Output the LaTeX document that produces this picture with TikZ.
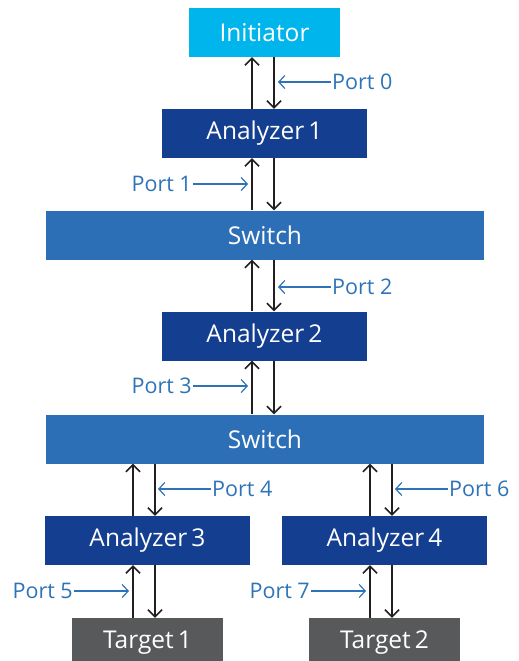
\documentclass[tikz,border=0pt]{standalone}
\usepackage{fontspec}
\setmainfont{Open Sans}
\usetikzlibrary{arrows.meta}
\definecolor{cinit}{HTML}{00B5EC}
\definecolor{canal}{HTML}{143E8F}
\definecolor{cswitch}{HTML}{2C6FB7}
\definecolor{ctarget}{HTML}{58595B}
\definecolor{cport}{HTML}{2E73B8}
\definecolor{carrow}{HTML}{231F20}
\tikzset{
  box/.style={draw=none, text=white, inner sep=0pt, minimum height=49pt, font=\fontsize{24.5}{28}\selectfont},
  initbox/.style={box, fill=cinit, minimum width=151pt},
  anbox/.style={box, fill=canal, minimum width=205pt},
  swbox/.style={box, fill=cswitch, minimum width=438pt},
  tbox/.style={box, fill=ctarget, minimum width=151pt},
  flow/.style={draw=carrow, line width=1.6pt, -{Straight Barb[length=7pt,width=14pt,line width=1.6pt]}},
  portlbl/.style={text=cport, inner sep=1pt, font=\fontsize{21.5}{25}\selectfont},
  portarr/.style={draw=cport, line width=1.2pt, -{Straight Barb[length=6pt,width=13pt,line width=1.2pt]}}
}
\begin{document}
\begin{tikzpicture}[x=1pt,y=-1pt]
\useasboundingbox (0,0) rectangle (519,661);
\node[initbox] (init) at (264.5,32.5) {Initiator};
\node[anbox] (an1) at (264.5,133.5) {Analyzer\,1};
\node[swbox] (sw1) at (265,235) {Switch};
\node[anbox] (an2) at (264.5,336) {Analyzer\,2};
\node[swbox] (sw2) at (265,439) {Switch};
\node[anbox] (an3) at (147.5,540.5) {Analyzer\,3};
\node[anbox] (an4) at (384.5,540.5) {Analyzer\,4};
\node[tbox] (t1) at (147.5,642.5) {Target\,1};
\node[tbox] (t2) at (384.5,642.5) {Target\,2};
% vertical flows
\draw[flow] ([xshift=-12.5pt]an1.north) -- ([xshift=-12.5pt]init.south);
\draw[flow] ([xshift=9.5pt]init.south) -- ([xshift=9.5pt]an1.north);
\draw[flow] ([xshift=-12.5pt]sw1.north -| an1.south) -- ([xshift=-12.5pt]an1.south);
\draw[flow] ([xshift=9.5pt]an1.south) -- ([xshift=9.5pt]sw1.north -| an1.south);
\draw[flow] ([xshift=-12.5pt]an2.north) -- ([xshift=-12.5pt]sw1.south -| an2.north);
\draw[flow] ([xshift=9.5pt]sw1.south -| an2.north) -- ([xshift=9.5pt]an2.north);
\draw[flow] ([xshift=-12.5pt]sw2.north -| an2.south) -- ([xshift=-12.5pt]an2.south);
\draw[flow] ([xshift=9.5pt]an2.south) -- ([xshift=9.5pt]sw2.north -| an2.south);
\draw[flow] ([xshift=-14.5pt]an3.north) -- ([xshift=-14.5pt]sw2.south -| an3.north);
\draw[flow] ([xshift=7.5pt]sw2.south -| an3.north) -- ([xshift=7.5pt]an3.north);
\draw[flow] ([xshift=-14.5pt]an4.north) -- ([xshift=-14.5pt]sw2.south -| an4.north);
\draw[flow] ([xshift=7.5pt]sw2.south -| an4.north) -- ([xshift=7.5pt]an4.north);
\draw[flow] ([xshift=-14.5pt]t1.north) -- ([xshift=-14.5pt]an3.south);
\draw[flow] ([xshift=7.5pt]an3.south) -- ([xshift=7.5pt]t1.north);
\draw[flow] ([xshift=-14.5pt]t2.north) -- ([xshift=-14.5pt]an4.south);
\draw[flow] ([xshift=7.5pt]an4.south) -- ([xshift=7.5pt]t2.north);
% port labels
\node[portlbl, anchor=west] (p0) at (331,82) {Port 0};
\coordinate (p0t) at (278,82);
\draw[portarr] (p0.west) -- (p0t);
\node[portlbl, anchor=east] (p1) at (193,184) {Port 1};
\coordinate (p1t) at (248,184);
\draw[portarr] (p1.east) -- (p1t);
\node[portlbl, anchor=west] (p2) at (331,287) {Port 2};
\coordinate (p2t) at (278,287);
\draw[portarr] (p2.west) -- (p2t);
\node[portlbl, anchor=east] (p3) at (193,386) {Port 3};
\coordinate (p3t) at (248,386);
\draw[portarr] (p3.east) -- (p3t);
\node[portlbl, anchor=west] (p4) at (211,489) {Port 4};
\coordinate (p4t) at (158,489);
\draw[portarr] (p4.west) -- (p4t);
\node[portlbl, anchor=west] (p6) at (448,489) {Port 6};
\coordinate (p6t) at (395,489);
\draw[portarr] (p6.west) -- (p6t);
\node[portlbl, anchor=east] (p5) at (74,591) {Port 5};
\coordinate (p5t) at (129,591);
\draw[portarr] (p5.east) -- (p5t);
\node[portlbl, anchor=east] (p7) at (311,591) {Port 7};
\coordinate (p7t) at (366,591);
\draw[portarr] (p7.east) -- (p7t);
\end{tikzpicture}
\end{document}
